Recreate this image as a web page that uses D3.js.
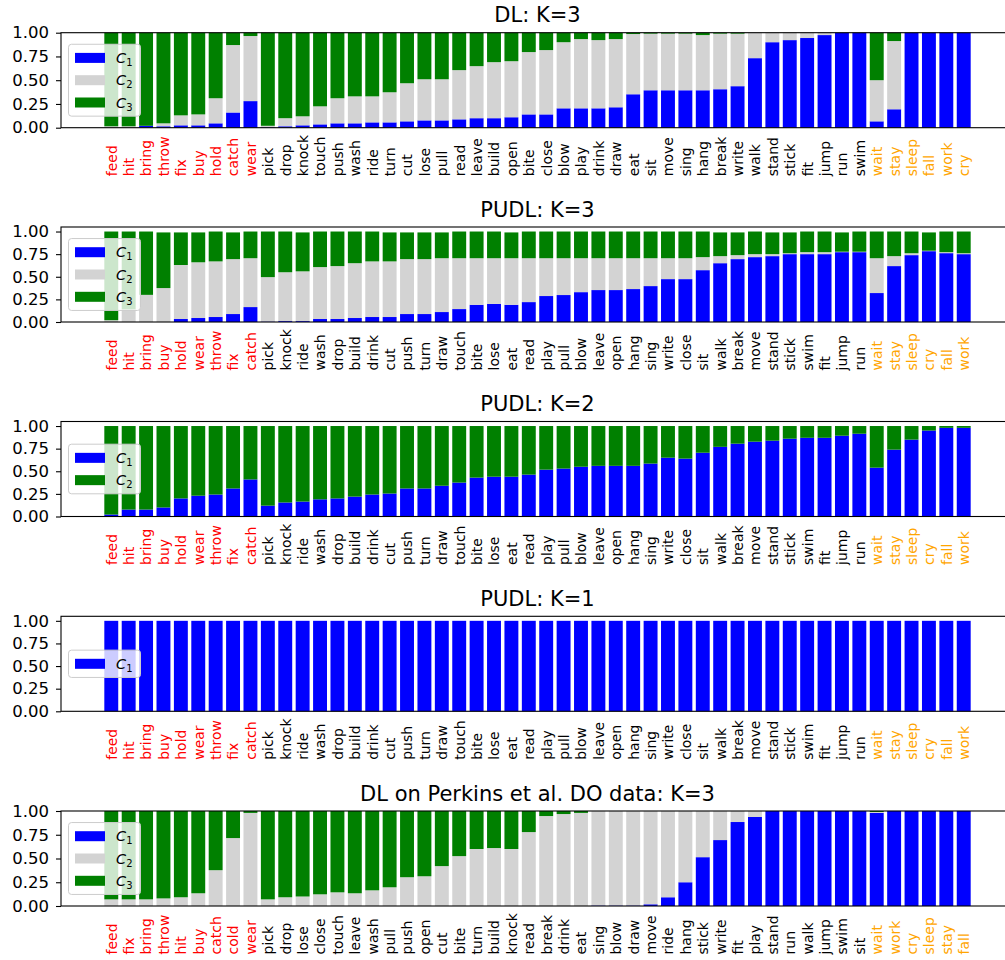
<!DOCTYPE html>
<html>
<head>
<meta charset="utf-8">
<script src="https://cdn.jsdelivr.net/npm/d3@7"></script>
<style>
body{margin:0;background:#fff;}
text{font-family:"DejaVu Sans",sans-serif;}
</style>
</head>
<body>
<script>
// verb orders (first 9 red, last 6 orange)
var verbsDL = ["feed","hit","bring","throw","fix","buy","hold","catch","wear","pick","drop","knock","touch","push","wash","ride","turn","cut","lose","pull","read","leave","build","open","bite","close","blow","play","drink","draw","eat","sit","move","sing","hang","break","write","walk","stand","stick","fit","jump","run","swim","wait","stay","sleep","fall","work","cry"];
var verbsPUDL = ["feed","hit","bring","buy","hold","wear","throw","fix","catch","pick","knock","ride","wash","drop","build","drink","cut","push","turn","draw","touch","bite","lose","eat","read","play","pull","blow","leave","open","hang","sing","write","close","sit","walk","break","move","stand","stick","swim","fit","jump","run","wait","stay","sleep","cry","fall","work"];
var verbsPerkins = ["feed","fix","bring","throw","hit","buy","catch","cold","wear","pick","drop","lose","close","touch","leave","wash","pull","push","open","cut","bite","turn","build","knock","read","break","drink","eat","sing","blow","draw","move","ride","hang","stick","write","fit","play","stand","run","walk","jump","swim","sit","wait","work","cry","sleep","stay","fall"];

// DL K=3
var dl3C1 = [0,0,0.02,0.015,0.025,0.025,0.046,0.16,0.28,0.005,0.015,0.025,0.035,0.046,0.046,0.056,0.056,0.067,0.077,0.077,0.088,0.1,0.1,0.11,0.14,0.14,0.204,0.204,0.204,0.215,0.352,0.394,0.394,0.394,0.394,0.405,0.437,0.732,0.9,0.922,0.944,0.975,1,1,0.067,0.194,1,1,1,1];
var dl3C2 = [0.015,0.015,0,0.031,0.105,0.115,0.264,0.71,0.685,0.015,0.085,0.095,0.19,0.264,0.284,0.274,0.317,0.401,0.433,0.433,0.518,0.548,0.59,0.59,0.656,0.677,0.696,0.729,0.718,0.718,0.634,0.596,0.596,0.596,0.581,0.585,0.553,0.268,0.1,0.078,0.056,0.025,0,0,0.433,0.718,0,0,0,0];
var dl3C3 = [0.985,0.985,0.98,0.954,0.87,0.86,0.69,0.13,0.035,0.98,0.9,0.88,0.775,0.69,0.67,0.67,0.627,0.532,0.49,0.49,0.394,0.352,0.31,0.3,0.204,0.183,0.1,0.067,0.078,0.067,0.014,0.01,0.01,0.01,0.025,0.01,0.01,0,0,0,0,0,0,0,0.5,0.088,0,0,0,0];

// PUDL K=3
var pudl3C1 = [0,0,0,0,0.033,0.044,0.055,0.088,0.165,0.005,0.01,0.01,0.033,0.033,0.044,0.055,0.055,0.088,0.088,0.11,0.143,0.19,0.2,0.19,0.22,0.287,0.298,0.33,0.353,0.353,0.364,0.397,0.474,0.474,0.573,0.65,0.695,0.717,0.728,0.75,0.75,0.75,0.772,0.772,0.32,0.618,0.739,0.783,0.761,0.75];
var pudl3C2 = [0.02,0.14,0.3,0.375,0.597,0.616,0.615,0.607,0.54,0.491,0.54,0.55,0.574,0.585,0.606,0.615,0.615,0.607,0.607,0.595,0.562,0.515,0.505,0.515,0.485,0.418,0.407,0.375,0.352,0.352,0.341,0.308,0.231,0.231,0.144,0.078,0.044,0.033,0.022,0.01,0.022,0.022,0.005,0.005,0.385,0.11,0.021,0.005,0.011,0.01];
var pudl3C3 = [0.98,0.86,0.7,0.615,0.36,0.33,0.33,0.295,0.295,0.504,0.45,0.43,0.393,0.382,0.35,0.33,0.32,0.295,0.295,0.285,0.295,0.295,0.295,0.285,0.295,0.295,0.295,0.295,0.295,0.295,0.295,0.295,0.295,0.295,0.283,0.262,0.251,0.25,0.24,0.23,0.228,0.228,0.213,0.223,0.295,0.272,0.24,0.202,0.228,0.24];

// PUDL K=2
var pudl2C1 = [0.022,0.077,0.077,0.1,0.2,0.23,0.243,0.31,0.41,0.12,0.155,0.165,0.19,0.2,0.22,0.243,0.254,0.31,0.31,0.34,0.375,0.43,0.44,0.44,0.463,0.518,0.53,0.55,0.56,0.56,0.56,0.585,0.65,0.64,0.705,0.77,0.805,0.827,0.838,0.86,0.87,0.87,0.893,0.915,0.54,0.739,0.85,0.95,0.98,0.98];
var pudl2C2 = [0.978,0.923,0.923,0.9,0.8,0.77,0.757,0.69,0.59,0.88,0.845,0.835,0.81,0.8,0.78,0.757,0.746,0.69,0.69,0.66,0.625,0.57,0.56,0.56,0.537,0.482,0.47,0.45,0.44,0.44,0.44,0.415,0.35,0.36,0.295,0.23,0.195,0.173,0.162,0.14,0.13,0.13,0.107,0.085,0.46,0.261,0.15,0.05,0.02,0.02];

// PUDL K=1
var pudl1C1 = [1,1,1,1,1,1,1,1,1,1,1,1,1,1,1,1,1,1,1,1,1,1,1,1,1,1,1,1,1,1,1,1,1,1,1,1,1,1,1,1,1,1,1,1,1,1,1,1,1,1];

// DL on Perkins et al. DO data, K=3
var perkC1 = [0,0,0,0,0,0,0,0,0,0,0,0,0,0,0,0,0,0,0,0,0,0,0,0,0,0,0,0,0.005,0.005,0.005,0.018,0.092,0.25,0.514,0.694,0.884,0.937,1,1,1,1,1,1,0.98,1,1,1,1,1];
var perkC2 = [0.07,0.07,0.07,0.08,0.092,0.134,0.377,0.715,0.98,0.07,0.092,0.1,0.123,0.144,0.134,0.165,0.197,0.303,0.313,0.42,0.525,0.6,0.61,0.6,0.778,0.947,0.968,0.98,0.995,0.995,0.995,0.982,0.908,0.75,0.486,0.306,0.116,0.063,0,0,0,0,0,0,0.01,0,0,0,0,0];
var perkC3 = [0.93,0.93,0.93,0.92,0.908,0.866,0.623,0.285,0.02,0.93,0.908,0.9,0.877,0.856,0.866,0.835,0.803,0.697,0.687,0.58,0.475,0.4,0.39,0.4,0.222,0.053,0.032,0.02,0,0,0,0,0,0,0,0,0,0,0,0,0,0,0,0,0.01,0,0,0,0,0];

var titles = ["DL: K=3","PUDL: K=3","PUDL: K=2","PUDL: K=1","DL on Perkins et al. DO data: K=3"];

var panels = [
  {title:titles[0], labels:verbsDL, series:[dl3C1,dl3C2,dl3C3], ymax:1},
  {title:titles[1], labels:verbsPUDL, series:[pudl3C1,pudl3C2,pudl3C3], ymax:1.05},
  {title:titles[2], labels:verbsPUDL, series:[pudl2C1,pudl2C2], ymax:1.05, colors:["blue","green"]},
  {title:titles[3], labels:verbsPUDL, series:[pudl1C1], ymax:1.05},
  {title:titles[4], labels:verbsPerkins, series:[perkC1,perkC2,perkC3], ymax:1}
];

var width = 1005, height = 960;
var colors3 = ["blue","lightgray","green"];
var tops = [32.7, 227, 421.5, 616.3, 811];
var ph = 95;
var axLeft = 61, axRight = 1014;

var svg = d3.select("body").append("svg").attr("width",width).attr("height",height);

var x = d3.scaleLinear().domain([-2.89, 51.89]).range([axLeft, axRight]);
var barW = x(0.8) - x(0);

function labelColor(i){
  if(i < 9) return "#ff0000";
  if(i >= 44) return "#ffa500";
  return "#000000";
}

panels.forEach(function(p, pi){
  var top = tops[pi], bottom = top + ph;
  var y = d3.scaleLinear().domain([0, p.ymax]).range([bottom, top]);
  var cols = p.colors || colors3;
  var g = svg.append("g");

  var keys = p.series.map(function(s,k){ return "c"+k; });
  var rows = p.labels.map(function(lab, j){
    var o = {i:j};
    p.series.forEach(function(s,k){ o["c"+k] = s[j]; });
    return o;
  });
  var layers = d3.stack().keys(keys)(rows);

  g.selectAll("g.layer").data(layers).enter().append("g")
    .attr("fill", function(d,k){ return cols[k]; })
    .selectAll("rect").data(function(d){ return d; }).enter().append("rect")
    .attr("x", function(d){ return x(d.data.i) - barW/2; })
    .attr("width", barW)
    .attr("y", function(d){ return y(d[1]); })
    .attr("height", function(d){ return Math.max(0, y(d[0]) - y(d[1])); });

  // x labels
  var xAxis = d3.axisBottom(x).tickValues(d3.range(p.labels.length))
    .tickFormat(function(i){ return p.labels[i]; }).tickSize(0);
  var gx = g.append("g").attr("transform","translate(0,"+bottom+")").call(xAxis);
  gx.select(".domain").remove();
  gx.selectAll("text")
    .attr("transform","rotate(-90)")
    .attr("text-anchor","start")
    .attr("x", -48.5).attr("y", 0).attr("dy","0.35em")
    .style("font-size","14px")
    .attr("fill", function(i){ return labelColor(i); });

  // y axis
  var yAxis = d3.axisLeft(y).tickValues([0,0.25,0.5,0.75,1])
    .tickFormat(d3.format(".2f")).tickSize(5).tickPadding(7);
  var gy = g.append("g").attr("transform","translate("+axLeft+",0)").call(yAxis);
  gy.select(".domain").remove();
  gy.selectAll("text").style("font-size","16.5px").attr("fill","#000");
  gy.selectAll("line").attr("stroke","#000").attr("stroke-width",1.1);

  // frame
  g.append("rect").attr("x",axLeft).attr("y",top).attr("width",axRight-axLeft).attr("height",ph)
    .attr("fill","none").attr("stroke","#000").attr("stroke-width",1.1);

  // title
  g.append("text").attr("x",(axLeft+axRight)/2).attr("y",top-10.5)
    .attr("text-anchor","middle").style("font-size","21px").text(p.title);

  // legend
  var n = p.series.length;
  var cy = (top+bottom)/2;
  var rowH = 22.3;
  var lh = n*rowH + 5;
  var lg = g.append("g");
  lg.append("rect").attr("x",68.5).attr("y",cy-lh/2).attr("width",72).attr("height",lh)
    .attr("rx",3).attr("fill","#fff").attr("fill-opacity",0.8)
    .attr("stroke","#cccccc").attr("stroke-width",1);
  p.series.forEach(function(s,k){
    var ry = cy + (k-(n-1)/2)*rowH;
    lg.append("rect").attr("x",75).attr("y",ry-5).attr("width",30).attr("height",10).attr("fill",cols[k]);
    var t = lg.append("text").attr("x",116).attr("y",ry+5).style("font-size","14.5px");
    t.append("tspan").style("font-style","italic").text("C");
    t.append("tspan").attr("dy",3).style("font-size","10px").text(String(k+1));
  });
});
</script>
</body>
</html>
